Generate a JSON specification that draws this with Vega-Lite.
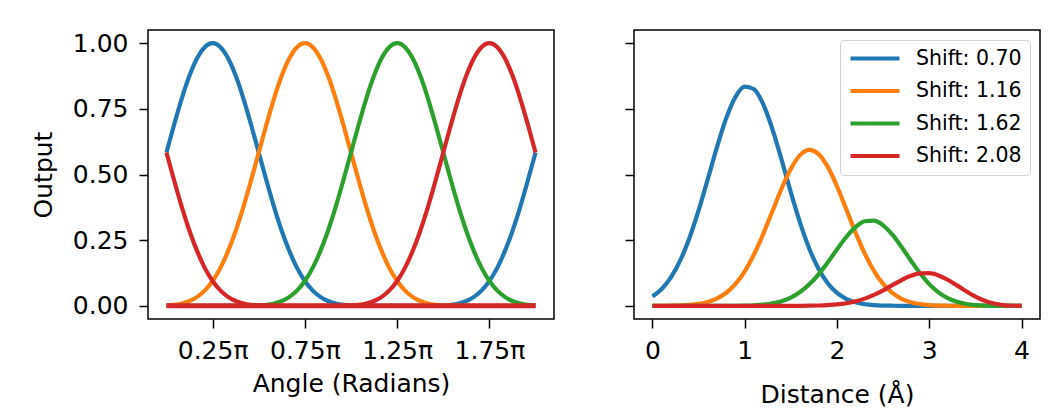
{
  "$schema": "https://vega.github.io/schema/vega-lite/v6.json",
  "background": "white",
  "padding": {"left": 30, "top": 29, "right": 9, "bottom": 0},
  "bounds": "flush",
  "spacing": 80,
  "config": {
    "font": "DejaVu Sans",
    "view": {"stroke": "black", "strokeWidth": 1.5},
    "axis": {
      "domain": false, "grid": false,
      "tickColor": "black", "tickSize": 9, "tickWidth": 1.5,
      "labelFont": "DejaVu Sans", "labelFontSize": 25, "labelColor": "black", "labelPadding": 10,
      "titleFont": "DejaVu Sans", "titleFontSize": 25, "titleFontWeight": "normal", "titleColor": "black"
    },
    "axisY": {"labelPadding": 11},
    "line": {"strokeWidth": 4.2, "interpolate": "monotone"}
  },
  "datasets": {
    "ang": [
      {"a": 0, "b": 0.5837, "o": 0.0015, "g": 0.0015, "r": 0.5837},
      {"a": 0.0417, "b": 0.6902, "o": 0.0039, "g": 0.0005, "r": 0.4771},
      {"a": 0.0833, "b": 0.79, "o": 0.009, "g": 0.0001, "r": 0.376},
      {"a": 0.125, "b": 0.8764, "o": 0.0184, "g": 0, "r": 0.2851},
      {"a": 0.1667, "b": 0.9432, "o": 0.0342, "g": 0, "r": 0.2072},
      {"a": 0.2083, "b": 0.9855, "o": 0.0589, "g": 0, "r": 0.1437},
      {"a": 0.25, "b": 1, "o": 0.0947, "g": 0, "r": 0.0947},
      {"a": 0.2917, "b": 0.9855, "o": 0.1437, "g": 0, "r": 0.0589},
      {"a": 0.3333, "b": 0.9432, "o": 0.2072, "g": 0, "r": 0.0342},
      {"a": 0.375, "b": 0.8764, "o": 0.2851, "g": 0, "r": 0.0184},
      {"a": 0.4167, "b": 0.79, "o": 0.376, "g": 0.0001, "r": 0.009},
      {"a": 0.4583, "b": 0.6902, "o": 0.4771, "g": 0.0005, "r": 0.0039},
      {"a": 0.5, "b": 0.5837, "o": 0.5837, "g": 0.0015, "r": 0.0015},
      {"a": 0.5417, "b": 0.4771, "o": 0.6902, "g": 0.0039, "r": 0.0005},
      {"a": 0.5833, "b": 0.376, "o": 0.79, "g": 0.009, "r": 0.0001},
      {"a": 0.625, "b": 0.2851, "o": 0.8764, "g": 0.0184, "r": 0},
      {"a": 0.6667, "b": 0.2072, "o": 0.9432, "g": 0.0342, "r": 0},
      {"a": 0.7083, "b": 0.1437, "o": 0.9855, "g": 0.0589, "r": 0},
      {"a": 0.75, "b": 0.0947, "o": 1, "g": 0.0947, "r": 0},
      {"a": 0.7917, "b": 0.0589, "o": 0.9855, "g": 0.1437, "r": 0},
      {"a": 0.8333, "b": 0.0342, "o": 0.9432, "g": 0.2072, "r": 0},
      {"a": 0.875, "b": 0.0184, "o": 0.8764, "g": 0.2851, "r": 0},
      {"a": 0.9167, "b": 0.009, "o": 0.79, "g": 0.376, "r": 0.0001},
      {"a": 0.9583, "b": 0.0039, "o": 0.6902, "g": 0.4771, "r": 0.0005},
      {"a": 1, "b": 0.0015, "o": 0.5837, "g": 0.5837, "r": 0.0015},
      {"a": 1.0417, "b": 0.0005, "o": 0.4771, "g": 0.6902, "r": 0.0039},
      {"a": 1.0833, "b": 0.0001, "o": 0.376, "g": 0.79, "r": 0.009},
      {"a": 1.125, "b": 0, "o": 0.2851, "g": 0.8764, "r": 0.0184},
      {"a": 1.1667, "b": 0, "o": 0.2072, "g": 0.9432, "r": 0.0342},
      {"a": 1.2083, "b": 0, "o": 0.1437, "g": 0.9855, "r": 0.0589},
      {"a": 1.25, "b": 0, "o": 0.0947, "g": 1, "r": 0.0947},
      {"a": 1.2917, "b": 0, "o": 0.0589, "g": 0.9855, "r": 0.1437},
      {"a": 1.3333, "b": 0, "o": 0.0342, "g": 0.9432, "r": 0.2072},
      {"a": 1.375, "b": 0, "o": 0.0184, "g": 0.8764, "r": 0.2851},
      {"a": 1.4167, "b": 0.0001, "o": 0.009, "g": 0.79, "r": 0.376},
      {"a": 1.4583, "b": 0.0005, "o": 0.0039, "g": 0.6902, "r": 0.4771},
      {"a": 1.5, "b": 0.0015, "o": 0.0015, "g": 0.5837, "r": 0.5837},
      {"a": 1.5417, "b": 0.0039, "o": 0.0005, "g": 0.4771, "r": 0.6902},
      {"a": 1.5833, "b": 0.009, "o": 0.0001, "g": 0.376, "r": 0.79},
      {"a": 1.625, "b": 0.0184, "o": 0, "g": 0.2851, "r": 0.8764},
      {"a": 1.6667, "b": 0.0342, "o": 0, "g": 0.2072, "r": 0.9432},
      {"a": 1.7083, "b": 0.0589, "o": 0, "g": 0.1437, "r": 0.9855},
      {"a": 1.75, "b": 0.0947, "o": 0, "g": 0.0947, "r": 1},
      {"a": 1.7917, "b": 0.1437, "o": 0, "g": 0.0589, "r": 0.9855},
      {"a": 1.8333, "b": 0.2072, "o": 0, "g": 0.0342, "r": 0.9432},
      {"a": 1.875, "b": 0.2851, "o": 0, "g": 0.0184, "r": 0.8764},
      {"a": 1.9167, "b": 0.376, "o": 0.0001, "g": 0.009, "r": 0.79},
      {"a": 1.9583, "b": 0.4771, "o": 0.0005, "g": 0.0039, "r": 0.6902},
      {"a": 2, "b": 0.5837, "o": 0.0015, "g": 0.0015, "r": 0.5837}
    ],
    "zero": [
      {"a": 0, "v": 0},
      {"a": 2, "v": 0}
    ],
    "rad": [
      {"d": 0, "b": 0.0359, "o": 0.0001, "g": 0, "r": 0},
      {"d": 0.1, "b": 0.0642, "o": 0.0003, "g": 0, "r": 0},
      {"d": 0.2, "b": 0.1082, "o": 0.0007, "g": 0, "r": 0},
      {"d": 0.3, "b": 0.1718, "o": 0.0016, "g": 0, "r": 0},
      {"d": 0.4, "b": 0.2572, "o": 0.0035, "g": 0, "r": 0},
      {"d": 0.5, "b": 0.363, "o": 0.0075, "g": 0, "r": 0},
      {"d": 0.6, "b": 0.4827, "o": 0.0149, "g": 0, "r": 0},
      {"d": 0.7, "b": 0.6051, "o": 0.0282, "g": 0, "r": 0},
      {"d": 0.8, "b": 0.7147, "o": 0.05, "g": 0.0002, "r": 0},
      {"d": 0.9, "b": 0.7956, "o": 0.0835, "g": 0.0004, "r": 0},
      {"d": 1.0, "b": 0.8344, "o": 0.1317, "g": 0.001, "r": 0},
      {"d": 1.1, "b": 0.8245, "o": 0.1955, "g": 0.0023, "r": 0},
      {"d": 1.2, "b": 0.7675, "o": 0.2734, "g": 0.0049, "r": 0},
      {"d": 1.3, "b": 0.6728, "o": 0.3602, "g": 0.0097, "r": 0},
      {"d": 1.4, "b": 0.5555, "o": 0.4468, "g": 0.018, "r": 0},
      {"d": 1.5, "b": 0.4318, "o": 0.5218, "g": 0.0317, "r": 0.0001},
      {"d": 1.6, "b": 0.316, "o": 0.5737, "g": 0.0526, "r": 0.0002},
      {"d": 1.7, "b": 0.2176, "o": 0.5935, "g": 0.0819, "r": 0.0006},
      {"d": 1.8, "b": 0.141, "o": 0.5778, "g": 0.1202, "r": 0.0013},
      {"d": 1.9, "b": 0.0859, "o": 0.5289, "g": 0.1658, "r": 0.0028},
      {"d": 2.0, "b": 0.0492, "o": 0.4552, "g": 0.215, "r": 0.0054},
      {"d": 2.1, "b": 0.0265, "o": 0.3682, "g": 0.262, "r": 0.0099},
      {"d": 2.2, "b": 0.0134, "o": 0.2797, "g": 0.2999, "r": 0.017},
      {"d": 2.3, "b": 0.0064, "o": 0.1995, "g": 0.3222, "r": 0.0275},
      {"d": 2.4, "b": 0.0028, "o": 0.1334, "g": 0.3247, "r": 0.0417},
      {"d": 2.5, "b": 0.0012, "o": 0.0836, "g": 0.3066, "r": 0.0593},
      {"d": 2.6, "b": 0.0005, "o": 0.0491, "g": 0.271, "r": 0.079},
      {"d": 2.7, "b": 0.0002, "o": 0.0269, "g": 0.224, "r": 0.0983},
      {"d": 2.8, "b": 0.0001, "o": 0.0138, "g": 0.1728, "r": 0.1143},
      {"d": 2.9, "b": 0, "o": 0.0066, "g": 0.1241, "r": 0.1237},
      {"d": 3.0, "b": 0, "o": 0.0029, "g": 0.0829, "r": 0.1244},
      {"d": 3.1, "b": 0, "o": 0.0012, "g": 0.0512, "r": 0.1159},
      {"d": 3.2, "b": 0, "o": 0.0005, "g": 0.0291, "r": 0.0994},
      {"d": 3.3, "b": 0, "o": 0.0002, "g": 0.0152, "r": 0.078},
      {"d": 3.4, "b": 0, "o": 0, "g": 0.0072, "r": 0.0555},
      {"d": 3.5, "b": 0, "o": 0, "g": 0.003, "r": 0.0353},
      {"d": 3.6, "b": 0, "o": 0, "g": 0.0011, "r": 0.0195},
      {"d": 3.7, "b": 0, "o": 0, "g": 0.0003, "r": 0.009},
      {"d": 3.8, "b": 0, "o": 0, "g": 0.0001, "r": 0.0031},
      {"d": 3.9, "b": 0, "o": 0, "g": 0, "r": 0.0005},
      {"d": 4.0, "b": 0, "o": 0, "g": 0, "r": 0}
    ]
  },
  "resolve": {"scale": {"color": "independent"}, "legend": {"color": "independent"}},
  "hconcat": [
    {
      "width": 406,
      "height": 289,
      "layer": [
        {
          "data": {"name": "ang"},
          "transform": [{"fold": ["b", "o", "g", "r"], "as": ["s", "v"]}],
          "mark": {"type": "line"},
          "encoding": {
            "x": {
              "field": "a", "type": "quantitative",
              "scale": {"domain": [-0.1, 2.1], "nice": false, "zero": false},
              "axis": {"values": [0.25, 0.75, 1.25, 1.75], "labelExpr": "format(datum.value, '.2f') + 'π'", "title": "Angle (Radians)", "titlePadding": 8}
            },
            "y": {
              "field": "v", "type": "quantitative",
              "scale": {"domain": [-0.05, 1.05], "nice": false, "zero": false},
              "axis": {"values": [0, 0.25, 0.5, 0.75, 1], "format": ".2f", "title": "Output", "titlePadding": 16}
            },
            "color": {
              "field": "s", "type": "nominal",
              "scale": {"domain": ["b", "o", "g", "r"], "range": ["#1f77b4", "#ff7f0e", "#2ca02c", "#d62728"]},
              "legend": null
            }
          }
        },
        {
          "data": {"name": "zero"},
          "mark": {"type": "line", "color": "#d62728", "strokeWidth": 5},
          "encoding": {
            "x": {"field": "a", "type": "quantitative"},
            "y": {"field": "v", "type": "quantitative"}
          }
        }
      ]
    },
    {
      "width": 406,
      "height": 289,
      "data": {"name": "rad"},
      "transform": [{"fold": ["b", "o", "g", "r"], "as": ["s", "v"]}],
      "mark": {"type": "line"},
      "encoding": {
        "x": {
          "field": "d", "type": "quantitative",
          "scale": {"domain": [-0.2, 4.2], "nice": false, "zero": false},
          "axis": {"values": [0, 1, 2, 3, 4], "format": "d", "title": "Distance (Å)", "titlePadding": 19}
        },
        "y": {
          "field": "v", "type": "quantitative",
          "scale": {"domain": [-0.05, 1.05], "nice": false, "zero": false},
          "axis": {"values": [0, 0.25, 0.5, 0.75, 1], "labels": false, "title": null}
        },
        "color": {
          "field": "s", "type": "nominal",
          "scale": {"domain": ["b", "o", "g", "r"], "range": ["#1f77b4", "#ff7f0e", "#2ca02c", "#d62728"]},
          "legend": {
            "title": null, "orient": "top-right", "offset": 10,
            "labelExpr": "datum.value == 'b' ? 'Shift: 0.70' : datum.value == 'o' ? 'Shift: 1.16' : datum.value == 'g' ? 'Shift: 1.62' : 'Shift: 2.08'",
            "symbolType": "stroke", "symbolSize": 2400, "symbolStrokeWidth": 4, "clipHeight": 21,
            "labelFontSize": 20.5, "labelColor": "black", "labelOffset": 14,
            "fillColor": "white", "strokeColor": "#d0d0d0", "cornerRadius": 4, "padding": 8, "rowPadding": 11.5
          }
        }
      }
    }
  ]
}
